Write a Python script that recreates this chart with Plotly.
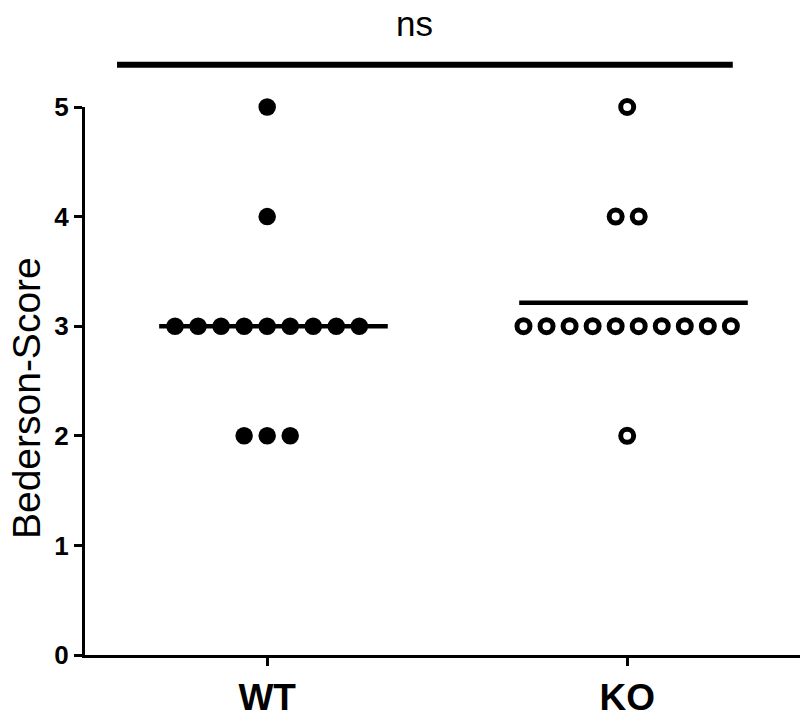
import numpy as np
import plotly.graph_objects as go

groups = ["WT", "KO"]
wt_scores = [5, 4, 3, 3, 3, 3, 3, 3, 3, 3, 3, 2, 2, 2]
ko_scores = [5, 4, 4, 3, 3, 3, 3, 3, 3, 3, 3, 3, 3, 2]
y_ticks = [0, 1, 2, 3, 4, 5]
sig_label = "ns"
y_title = "Bederson-Score"

SPACING = 0.064
LEFT_W = 0.30
RIGHT_W = 0.335


def swarm(values, center):
    xs, ys = [], []
    vals = np.array(values)
    for lvl in sorted(set(values), reverse=True):
        n = int((vals == lvl).sum())
        for i in range(n):
            xs.append(center + (i - (n - 1) / 2) * SPACING)
            ys.append(lvl)
    return xs, ys


fig = go.Figure()
data = [wt_scores, ko_scores]
for gi, (g, vals) in enumerate(zip(groups, data)):
    m = float(np.mean(vals))
    fig.add_trace(go.Scatter(x=[gi - LEFT_W, gi + RIGHT_W], y=[m, m], mode="lines",
                             line=dict(color="black", width=4.5), showlegend=False,
                             hoverinfo="skip", cliponaxis=False))
    xs, ys = swarm(vals, gi)
    if gi == 0:
        marker = dict(symbol="circle", size=17.5, color="black", line=dict(width=0))
    else:
        marker = dict(symbol="circle-open", size=13, color="black", line=dict(width=5, color="black"))
    fig.add_trace(go.Scatter(x=xs, y=ys, mode="markers", marker=marker, showlegend=False,
                             cliponaxis=False, name=g))

# significance bar (paper coordinates so it is drawn above the plot area)
fig.add_shape(type="line", x0=0.0448, x1=0.906, y0=1.077, y1=1.077, xref="paper", yref="paper",
              line=dict(color="black", width=6))
fig.add_annotation(x=0.4615, y=1.152, xref="paper", yref="paper", text=sig_label, showarrow=False,
                   xanchor="center", yanchor="middle",
                   font=dict(family="Liberation Sans, Arial", size=35, color="black"))
fig.add_annotation(x=-0.081, y=0.469, xref="paper", yref="paper", text=y_title, showarrow=False,
                   textangle=-90, xanchor="center", yanchor="middle",
                   font=dict(family="Liberation Sans, Arial", size=39, color="black"))

fig.update_layout(
    width=800, height=721,
    margin=dict(l=85, r=0, t=107, b=66),
    plot_bgcolor="white", paper_bgcolor="white",
    xaxis=dict(range=[-0.506, 1.48], tickmode="array", tickvals=[0, 1], ticktext=groups,
               showline=True, linecolor="black", linewidth=3, ticks="outside", ticklen=8,
               tickwidth=3, tickcolor="black", showgrid=False, zeroline=False,
               tickfont=dict(family="Liberation Sans, Arial", size=37, color="black", weight="bold")),
    yaxis=dict(range=[0, 5], tickmode="array", tickvals=y_ticks,
               showline=True, linecolor="black", linewidth=3, ticks="outside", ticklen=8,
               tickwidth=3, tickcolor="black", showgrid=False, zeroline=False,
               tickfont=dict(family="Liberation Sans, Arial", size=26, color="black", weight="bold")),
)

fig.write_html("out.html")
